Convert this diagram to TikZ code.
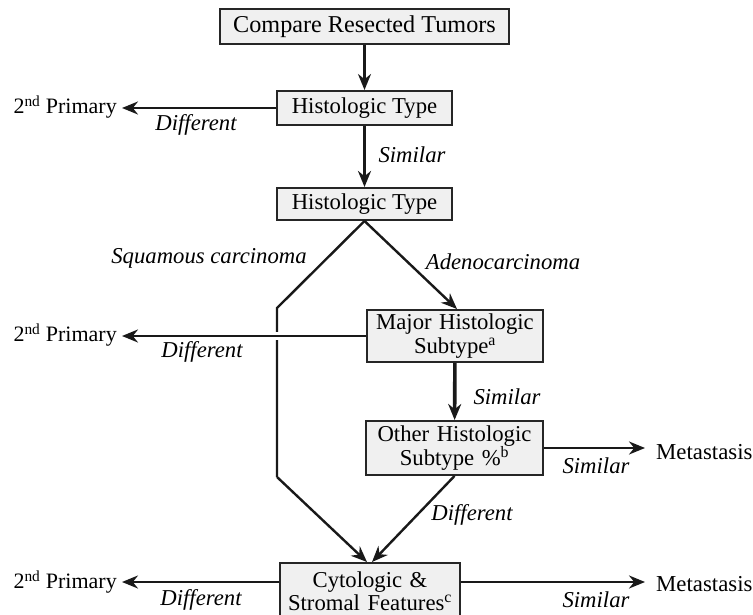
\documentclass[tikz,border=0pt]{standalone}
\usepackage{fontspec}
\setmainfont{Liberation Serif}
\usetikzlibrary{arrows.meta,calc}
\begin{document}
\begin{tikzpicture}[x=1pt,y=-1pt,
  font=\fontsize{22.7}{23.5}\selectfont,
  box/.style={draw=black!85,fill=black!6,line width=2pt,inner sep=0pt,align=center},
  lbl/.style={inner sep=0pt,font=\fontsize{22.7}{23}\selectfont\itshape},
  txt/.style={inner sep=0pt},
  conn/.style={line width=2.4pt,draw=black!90,-{Stealth[length=16pt,width=13pt]}},
  thk/.style={line width=3.6pt,draw=black!90,-{Stealth[length=16pt,width=13pt]}},
  plain/.style={line width=2.4pt,draw=black!90}]
\clip (0,0) rectangle (753,615);
\useasboundingbox (0,0) rectangle (753,615);
% boxes
\node[box,minimum width=289pt,minimum height=35pt,font=\fontsize{24.2}{25}\selectfont] (cmp) at (364.5,26.5) {Compare Resected Tumors};
\node[box,minimum width=175pt,minimum height=34pt] (h1) at (364.5,108) {Histologic Type};
\node[box,minimum width=175pt,minimum height=32pt] (h2) at (364.5,204) {Histologic Type};
\node[box,minimum width=176pt,minimum height=52pt,text width=176pt] (maj) at (455,336) {Major Histologic\\Subtype\textsuperscript{a}};
\node[box,minimum width=177pt,minimum height=54pt,text width=177pt] (oth) at (454.5,448) {Other Histologic\\Subtype \%\textsuperscript{b}};
\node[box,minimum width=180pt,minimum height=56pt,text width=180pt] (cyt) at (370,591) {Cytologic \&\\[-1pt]Stromal Features\textsuperscript{c}};
% end texts
\node[txt,anchor=east,font=\fontsize{22}{23}\selectfont] (p1) at (117,107) {2\textsuperscript{nd} Primary};
\node[txt,anchor=east,font=\fontsize{22}{23}\selectfont] (p2) at (117,335) {2\textsuperscript{nd} Primary};
\node[txt,anchor=east,font=\fontsize{22}{23}\selectfont] (p3) at (117,582) {2\textsuperscript{nd} Primary};
\node[txt,anchor=west,font=\fontsize{22.8}{23}\selectfont] (m1) at (656,452) {Metastasis};
\node[txt,anchor=west,font=\fontsize{22.8}{23}\selectfont] (m2) at (656,584) {Metastasis};
% coordinates
\coordinate (s1) at (277,308);
\coordinate (s2) at (277,477);
% connectors
\draw[conn] (cmp) -- (h1);
\draw[conn] (h1.west) -- ([xshift=5pt]h1.west -| p1.east);
\draw[thk] (h1) -- (h2);
\draw[plain] (h2.south) -- (s1) -- (s2);
\draw[conn] (s2) -- ([xshift=-3pt]cyt.north);
\draw[conn] (h2.south) -- ([xshift=2pt]maj.north);
\coordinate (cr) at (s1 |- maj.west);
\draw[white,line width=8pt] ([xshift=-4pt]cr) -- ([xshift=4pt]cr);
\draw[conn] (maj.west) -- ([xshift=5pt]maj.west -| p2.east);
\draw[thk] (maj) -- (oth);
\draw[conn] (oth.east) -- ([xshift=-11pt]oth.east -| m1.west);
\draw[conn] (oth.south) -- ([xshift=2pt]cyt.north);
\draw[conn] (cyt.west |- p3) -- ([xshift=5pt]p3.east);
\draw[conn] (cyt.east |- p3) -- ([xshift=-11pt]p3 -| m2.west);
% labels
\node[lbl] (l1) at (196,125) {Different};
\node[lbl] (l2) at (412,155) {Similar};
\node[lbl] (l3) at (209,258) {Squamous carcinoma};
\node[lbl] (l4) at (503,262) {Adenocarcinoma};
\node[lbl] (l5) at (202,352) {Different};
\node[lbl] (l6) at (507,397) {Similar};
\node[lbl] (l7) at (596,466) {Similar};
\node[lbl] (l8) at (472,515) {Different};
\node[lbl] (l9) at (201,600) {Different};
\node[lbl] (l10) at (596,600) {Similar};
\end{tikzpicture}
\end{document}
